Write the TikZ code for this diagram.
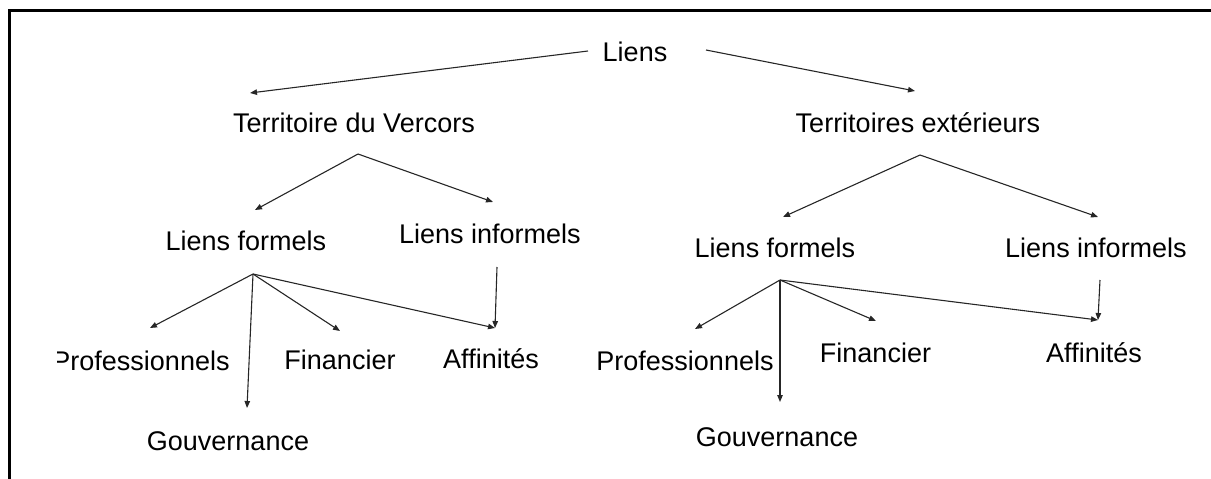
\documentclass[tikz,border=0pt]{standalone}
\usepackage{fontspec}
\setmainfont{Liberation Sans}
\usetikzlibrary{arrows.meta}
\begin{document}
\begin{tikzpicture}[x=1pt,y=-1pt,
  lbl/.style={anchor=base,inner sep=0pt,font=\fontsize{27}{32}\selectfont,text=black},
  arr/.style={line width=1.1pt,draw=black!85,-{Triangle[length=7pt,width=5.5pt]}},
  frame/.style={line width=2.8pt,line join=miter}]
\useasboundingbox (0,0) rectangle (1211,479);
\draw[frame] (9.5,480) -- (9.5,10.7) -- (1212,10.7);

% labels
\node[lbl] (liens) at (635,61) {Liens};
\node[lbl] (tv) at (354,132) {Territoire du Vercors};
\node[lbl] (te) at (918,132) {Territoires extérieurs};
\node[lbl] (lfL) at (246,250) {Liens formels};
\node[lbl] (liL) at (490,243) {Liens informels};
\node[lbl] (lfR) at (775,257) {Liens formels};
\node[lbl] (liR) at (1096,257) {Liens informels};
\begin{scope}
  \clip (57.5,330) rectangle (240,390);
  \node[lbl] (proL) at (141,370) {Professionnels};
\end{scope}
\node[lbl] (finL) at (340,369) {Financier};
\node[lbl] (affL) at (491,368) {Affinités};
\node[lbl] (gouL) at (228,450) {Gouvernance};
\node[lbl] (proR) at (685,370) {Professionnels};
\node[lbl] (finR) at (875.5,362) {Financier};
\node[lbl] (affR) at (1094,362) {Affinités};
\node[lbl] (gouR) at (777,446) {Gouvernance};

% connector ends
\coordinate (rootL) at (588,51);
\coordinate (rootR) at (706,50);
\coordinate (tvIn) at (250,93);
\coordinate (teIn) at (915,91);
\coordinate (tvHub) at (358,154);
\coordinate (teHub) at (920,155);
\coordinate (lfLIn) at (255,210);
\coordinate (liLIn) at (493,202);
\coordinate (lfRIn) at (783,217);
\coordinate (liRIn) at (1098,217);
\coordinate (lfLHub) at (253,274);
\coordinate (lfRHub) at (780,280);
\coordinate (liLOut) at (497,267);
\coordinate (liROut) at (1100,280);
\coordinate (proLIn) at (150,328);
\coordinate (gouLIn) at (247,408);
\coordinate (finLIn) at (340,331);
\coordinate (affLIn) at (495,328);
\coordinate (proRIn) at (695,329);
\coordinate (gouRIn) at (780,402);
\coordinate (finRIn) at (876,321);
\coordinate (affRIn) at (1098,320);

% connectors
\draw[arr] (rootL) -- (tvIn);
\draw[arr] (rootR) -- (teIn);
\draw[arr] (tvHub) -- (lfLIn);
\draw[arr] (tvHub) -- (liLIn);
\draw[arr] (teHub) -- (lfRIn);
\draw[arr] (teHub) -- (liRIn);
\draw[arr] (lfLHub) -- (proLIn);
\draw[arr] (lfLHub) -- (gouLIn);
\draw[arr] (lfLHub) -- (finLIn);
\draw[arr] (lfLHub) -- (affLIn);
\draw[arr] (liLOut) -- (affLIn);
\draw[arr] (lfRHub) -- (proRIn);
\draw[arr] (lfRHub) -- (gouRIn);
\draw[arr] (lfRHub) -- (finRIn);
\draw[arr] (lfRHub) -- (affRIn);
\draw[arr] (liROut) -- (affRIn);
\end{tikzpicture}
\end{document}
